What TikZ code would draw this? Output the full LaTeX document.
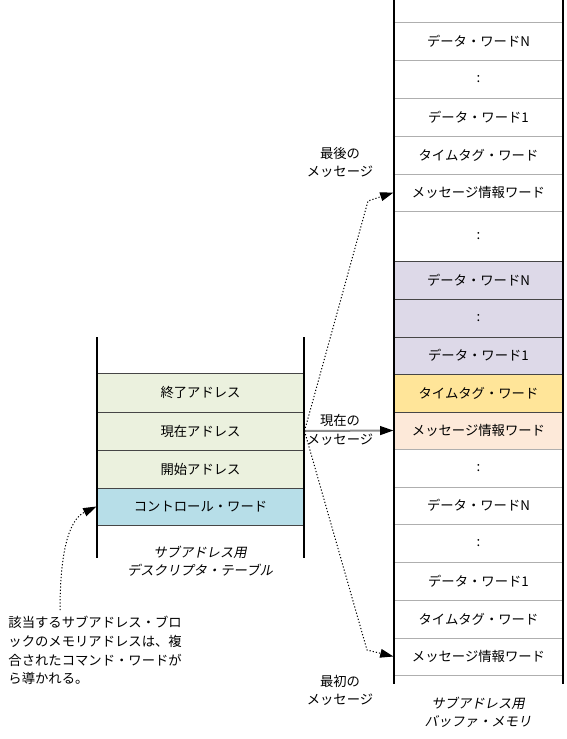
\documentclass[tikz,border=0pt]{standalone}
\usepackage{fontspec}
\setmainfont{Noto Sans CJK JP}
\newfontfamily\slantfont[FakeSlant=0.2]{Noto Sans CJK JP}
\usetikzlibrary{arrows.meta}

\definecolor{rowgray}{RGB}{175,175,175}
\definecolor{rowdark}{RGB}{70,70,70}
\definecolor{descgreen}{RGB}{235,241,222}
\definecolor{ctrlblue}{RGB}{183,222,232}
\definecolor{datapurple}{RGB}{221,217,232}
\definecolor{tagyellow}{RGB}{255,229,153}
\definecolor{infopeach}{RGB}{253,233,217}
\definecolor{ptrgray}{RGB}{140,140,140}

\tikzset{every picture/.style={line width=0.75pt}}
\tikzset{
  bufrow/.style={draw=rowgray, minimum width=126.75pt, minimum height=28.5pt, inner sep=0pt, font=\fontsize{10}{12}\selectfont},
  descrow/.style={draw=rowdark, minimum width=155.25pt, minimum height=28.5pt, inner sep=0pt, font=\fontsize{10}{12}\selectfont},
  msgtext/.style={inner sep=0.75pt, align=center, font=\fontsize{10}{14}\selectfont},
  captext/.style={inner sep=0.75pt, align=center, font=\slantfont\fontsize{10}{13.5}\selectfont},
  ptr/.style={dash pattern=on 0.9pt off 1.5pt, -{Triangle[length=10pt,width=6.5pt]}},
}

\begin{document}
\begin{tikzpicture}[x=0.75pt,y=0.75pt,yscale=-1,xscale=1]
\useasboundingbox (0,0) rectangle (567,739);

%Buffer memory rows
\node[bufrow] (b1) at (478.5,41) {データ・ワードN};
\node[bufrow] (b2) at (478.5,79) {:};
\node[bufrow] (b3) at (478.5,117) {データ・ワード1};
\node[bufrow] (b4) at (478.5,155) {タイムタグ・ワード};
\node[bufrow, minimum height=27.75pt] (b5) at (478.5,192.5) {メッセージ情報ワード};
\node[bufrow, minimum height=37.5pt] (b6) at (478.5,236) {:};
\node[bufrow, draw=rowdark, fill=datapurple] (b7) at (478.5,280) {データ・ワードN};
\node[bufrow, draw=rowdark, fill=datapurple] (b8) at (478.5,318) {:};
\node[bufrow, draw=rowdark, fill=datapurple, minimum height=27.75pt] (b9) at (478.5,355.5) {データ・ワード1};
\node[bufrow, draw=rowdark, fill=tagyellow] (b10) at (478.5,393) {タイムタグ・ワード};
\node[bufrow, draw=rowdark, fill=infopeach, minimum height=27.75pt] (b11) at (478.5,430.5) {メッセージ情報ワード};
\node[bufrow] (b12) at (478.5,468) {:};
\node[bufrow, minimum height=27.75pt] (b13) at (478.5,505.5) {データ・ワードN};
\node[bufrow] (b14) at (478.5,543) {:};
\node[bufrow] (b15) at (478.5,581) {データ・ワード1};
\node[bufrow] (b16) at (478.5,619) {タイムタグ・ワード};
\node[bufrow, minimum height=27.75pt] (b17) at (478.5,656.5) {メッセージ情報ワード};

%Buffer memory sides
\draw[line width=1.5pt] (394,0) -- (394,684);
\draw[line width=1.5pt] (563,0) -- (563,684);

%Descriptor table rows
\node[descrow, fill=descgreen, minimum height=29.25pt] (endaddr) at (200.5,392.5) {終了アドレス};
\node[descrow, fill=descgreen] (curaddr) at (200.5,431) {現在アドレス};
\node[descrow, fill=descgreen] (startaddr) at (200.5,469) {開始アドレス};
\node[descrow, fill=ctrlblue, minimum height=27.75pt] (ctrl) at (200.5,506.5) {コントロール・ワード};

%Descriptor table sides
\draw[line width=1.5pt] (97,337) -- (97,558);
\draw[line width=1.5pt] (304,337) -- (304,558);

% Text Node
\node[captext] (desccap) at (200,561) {サブアドレス用\\デスクリプタ・テーブル};
% Text Node
\node[captext] (bufcap) at (478,712) {サブアドレス用\\バッファ・メモリ};
% Text Node
\node[msgtext] (lastmsg) at (340,162.5) {最後の\\メッセージ};
% Text Node
\node[msgtext] (firstmsg) at (340,690.5) {最初の\\メッセージ};
% Text Node
\node[msgtext, anchor=south] (curmsg1) at (340,428) {現在の};
% Text Node
\node[msgtext, anchor=north] (curmsg2) at (340,432) {メッセージ};
% Text Node
\node[inner sep=0pt, anchor=north west, align=left, font=\fontsize{10}{13.9}\selectfont] (note) at (8,616) {該当するサブアドレス・ブロ\\ックのメモリアドレスは、複\\合されたコマンド・ワードが\\ら導かれる。};

%Pointers
\draw[draw=ptrgray, line width=1.5pt, -{Triangle[length=10pt,width=6.5pt,color=black]}] (curaddr.east) -- (b11.west);
\draw[ptr] (curaddr.east) -- (368,201) -- (b5.west);
\draw[ptr] (curaddr.east) -- (367,650) -- (b17.west);
\coordinate (notetop) at (60,610);
\draw[ptr] (notetop) .. controls (60,555) and (68,520) .. (ctrl.west);

\end{tikzpicture}
\end{document}
